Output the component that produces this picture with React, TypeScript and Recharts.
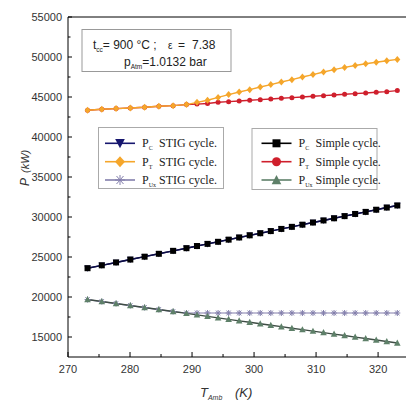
import React from "react";
import { LineChart, Line, XAxis, YAxis, ReferenceLine } from "recharts";

// Ambient temperature (K)
const temps = [
  273.15, 275.45, 277.75, 280.05, 282.35, 284.65, 286.95, 289.1, 290.8, 292.5,
  294.2, 295.9, 297.6, 299.3, 301.0, 302.7, 304.4, 306.1, 307.8, 309.5,
  311.2, 312.9, 314.6, 316.3, 318.0, 319.7, 321.4, 323.1,
];

// Compressor power (kW)
const pcStig = [
  23600, 23960, 24320, 24680, 25040, 25400, 25770, 26100, 26370, 26640,
  26900, 27170, 27440, 27710, 27970, 28240, 28510, 28770, 29040, 29310,
  29570, 29840, 30110, 30380, 30640, 30910, 31180, 31440,
];
const pcSimple = [
  23600, 23960, 24320, 24680, 25040, 25400, 25770, 26100, 26370, 26640,
  26900, 27170, 27440, 27710, 27970, 28240, 28510, 28770, 29040, 29310,
  29570, 29840, 30110, 30380, 30640, 30910, 31180, 31440,
];

// Turbine power (kW)
const ptStig = [
  43340, 43460, 43550, 43620, 43710, 43840, 43920, 44050, 44330, 44600,
  44950, 45300, 45620, 45920, 46250, 46550, 46870, 47170, 47500, 47800,
  48120, 48420, 48700, 48930, 49150, 49350, 49530, 49700,
];
const ptSimple = [
  43340, 43460, 43550, 43620, 43710, 43840, 43920, 44050, 44110, 44180,
  44340, 44420, 44500, 44590, 44670, 44750, 44840, 44920, 45000, 45090,
  45170, 45250, 45340, 45420, 45500, 45590, 45670, 45800,
];

// Useful power (kW)
const puxStig = [
  19680, 19430, 19180, 18930, 18680, 18430, 18180, 18000, 18000, 18000,
  18000, 18000, 18000, 18000, 18000, 18000, 18000, 18000, 18000, 18000,
  18000, 18000, 18000, 18000, 18000, 18000, 18000, 18000,
];
const puxSimple = [
  19680, 19430, 19180, 18930, 18680, 18430, 18180, 17950, 17760, 17580,
  17390, 17210, 17020, 16840, 16660, 16470, 16290, 16100, 15920, 15730,
  15550, 15360, 15180, 14990, 14810, 14620, 14440, 14250,
];

const xTicks = [270, 275, 280, 285, 290, 295, 300, 305, 310, 315, 320];
const yTicks = [
  15000, 17500, 20000, 22500, 25000, 27500, 30000, 32500, 35000, 37500,
  40000, 42500, 45000, 47500, 50000, 52500, 55000,
];

const data = temps.map((t, i) => ({
  t,
  pcStig: pcStig[i],
  pcSimple: pcSimple[i],
  ptStig: ptStig[i],
  ptSimple: ptSimple[i],
  puxStig: puxStig[i],
  puxSimple: puxSimple[i],
}));

const C = {
  navy: "#16166e",
  black: "#000000",
  orange: "#f5a62b",
  red: "#cf1f2c",
  purple: "#837fac",
  green: "#5e8069",
  greenLine: "#3f4d45",
};

type Shape = "tri" | "triDown" | "diamond" | "square" | "circle" | "star";

function marker(shape: Shape, color: string, cx: number, cy: number, s: number, key?: any) {
  switch (shape) {
    case "square":
      return <rect key={key} x={cx - s / 2} y={cy - s / 2} width={s} height={s} fill={color} />;
    case "circle":
      return <circle key={key} cx={cx} cy={cy} r={s / 2} fill={color} />;
    case "diamond":
      return (
        <polygon
          key={key}
          points={`${cx},${cy - s / 2 - 0.5} ${cx + s / 2},${cy} ${cx},${cy + s / 2 + 0.5} ${cx - s / 2},${cy}`}
          fill={color}
        />
      );
    case "tri":
      return (
        <polygon
          key={key}
          points={`${cx},${cy - s / 2 - 0.5} ${cx + s / 2 + 0.3},${cy + s / 2 - 0.3} ${cx - s / 2 - 0.3},${cy + s / 2 - 0.3}`}
          fill={color}
        />
      );
    case "triDown":
      return (
        <polygon
          key={key}
          points={`${cx},${cy + s / 2 + 0.5} ${cx + s / 2 + 0.3},${cy - s / 2 + 0.3} ${cx - s / 2 - 0.3},${cy - s / 2 + 0.3}`}
          fill={color}
        />
      );
    case "star": {
      const r = s / 2;
      return (
        <g key={key} stroke={color} strokeWidth={1}>
          <line x1={cx - r} y1={cy} x2={cx + r} y2={cy} />
          <line x1={cx - r * 0.7} y1={cy - r * 0.8} x2={cx + r * 0.7} y2={cy + r * 0.8} />
          <line x1={cx - r * 0.7} y1={cy + r * 0.8} x2={cx + r * 0.7} y2={cy - r * 0.8} />
          <line x1={cx} y1={cy - r} x2={cx} y2={cy + r} />
        </g>
      );
    }
  }
  return null;
}

const dotFn = (shape: Shape, color: string, s: number) => (props: any) => {
  const { cx, cy, index } = props;
  if (cx == null || cy == null) return <g key={`d${index}`} />;
  return marker(shape, color, cx, cy, s, `d${index}`);
};

const YTick = (props: any) => {
  const { x, y, payload } = props;
  const v = payload.value as number;
  const ax = x + 6;
  const major = v % 5000 === 0;
  return (
    <g>
      <line x1={ax} x2={ax + (major ? 4 : 2.5)} y1={y} y2={y} stroke="#000" strokeWidth={1} />
      {major && (
        <text x={x} y={y + 4} textAnchor="end" fontSize={11} fill="#333" fontFamily="Liberation Sans, Arial, sans-serif">
          {v}
        </text>
      )}
    </g>
  );
};

const XTick = (props: any) => {
  const { x, y, payload } = props;
  const v = payload.value as number;
  const major = v % 10 === 0;
  return (
    <g>
      <line x1={x} x2={x} y1={y} y2={y - (major ? 5 : 3)} stroke="#000" strokeWidth={1} />
      {major && (
        <text x={x} y={y + 15.5} textAnchor="middle" fontSize={11} fill="#333" fontFamily="Liberation Sans, Arial, sans-serif">
          {v}
        </text>
      )}
    </g>
  );
};

const serif = "Liberation Serif, Times New Roman, serif";
const sans = "Liberation Sans, Arial, sans-serif";

const LegendRow = ({ x, y, shape, color, sub, label, s }: any) => (
  <g>
    <line x1={x} x2={x + 30} y1={y} y2={y} stroke={color} strokeWidth={1.6} />
    {marker(shape, color, x + 15, y, s)}
    <text x={x + 37} y={y + 4} fontFamily={serif} fontSize={12} fill="#222">
      P
      <tspan fontSize={6} dy={3}>{sub}</tspan>
    </text>
    <text x={x + 54} y={y + 4} fontFamily={serif} fontSize={12} fill="#222">
      {label}
    </text>
  </g>
);

export default function App() {
  return (
    <div style={{ position: "fixed", left: 0, top: 0, width: 406, height: 400, background: "#fff" }}>
      <LineChart width={406} height={400} data={data} margin={{ top: 17, right: 0, bottom: 0, left: 0 }}>
        <XAxis
          dataKey="t"
          type="number"
          domain={[270, 324.5]}
          ticks={xTicks}
          interval={0}
          allowDataOverflow
          height={43}
          tickSize={0}
          tickMargin={0}
          tickLine={false}
          axisLine={{ stroke: "#000", strokeWidth: 1 }}
          tick={<XTick />}
        />
        <YAxis
          type="number"
          domain={[12500, 55000]}
          ticks={yTicks}
          interval={0}
          allowDataOverflow
          width={68}
          tickSize={0}
          tickMargin={6}
          tickLine={false}
          axisLine={{ stroke: "#000", strokeWidth: 1 }}
          tick={<YTick />}
        />
        <ReferenceLine y={55000} stroke="#000" strokeWidth={1} />
        <Line dataKey="ptSimple" stroke={C.red} strokeWidth={1.4} dot={dotFn("circle", C.red, 5)} isAnimationActive={false} />
        <Line dataKey="ptStig" stroke={C.orange} strokeWidth={1.4} dot={dotFn("diamond", C.orange, 6)} isAnimationActive={false} />
        <Line dataKey="pcStig" stroke={C.navy} strokeWidth={1.4} dot={dotFn("triDown", C.navy, 6)} isAnimationActive={false} />
        <Line dataKey="pcSimple" stroke="#0c0c40" strokeWidth={1.4} dot={dotFn("square", C.black, 6)} isAnimationActive={false} />
        <Line dataKey="puxStig" stroke={C.purple} strokeWidth={1.2} dot={dotFn("star", C.purple, 6)} isAnimationActive={false} />
        <Line dataKey="puxSimple" stroke={C.greenLine} strokeWidth={1.4} dot={dotFn("tri", C.green, 6)} isAnimationActive={false} />
      </LineChart>
      <svg width={406} height={400} style={{ position: "absolute", left: 0, top: 0, pointerEvents: "none" }}>
        {/* condition box */}
        <rect x={82} y={29.5} width={149} height={42} fill="#fff" stroke="#999" strokeWidth={1} />
        <text x={93} y={49} fontFamily={sans} fontSize={12} fill="#222">
          t<tspan fontSize={6.5} dy={3}>cc</tspan>
          <tspan dy={-3}>= 900 °C ;</tspan>
        </text>
        <text x={168} y={49} fontFamily={sans} fontSize={10} fill="#222">
          ε
        </text>
        <text x={178} y={49} fontFamily={sans} fontSize={12} fill="#222">
          =
        </text>
        <text x={192} y={49} fontFamily={sans} fontSize={12} fill="#222">
          7.38
        </text>
        <text x={124} y={66} fontFamily={sans} fontSize={12} fill="#222">
          p<tspan fontSize={6.5} dy={3}>Atm</tspan>
          <tspan dy={-3}>=1.0132 bar</tspan>
        </text>

        {/* STIG legend */}
        <rect x={98.5} y={127.5} width={125} height={61} fill="#fff" stroke="#aaa" strokeWidth={1} />
        <LegendRow x={105} y={143.3} shape="triDown" color={C.navy} sub="C" label="STIG cycle." s={9} />
        <LegendRow x={105} y={161.7} shape="diamond" color={C.orange} sub="T" label="STIG cycle." s={10} />
        <LegendRow x={105} y={180} shape="star" color={C.purple} sub="Ux" label="STIG cycle." s={10} />

        {/* Simple legend */}
        <rect x={252} y={128.5} width={125} height={61} fill="#fff" stroke="#aaa" strokeWidth={1} />
        <g transform="translate(156.5,0)">
          <LegendRow x={105} y={143.3} shape="square" color={C.black} sub="C" label="Simple cycle." s={8} />
          <LegendRow x={105} y={161.7} shape="circle" color={C.red} sub="T" label="Simple cycle." s={9} />
          <LegendRow x={105} y={180} shape="tri" color={C.green} sub="Ux" label="Simple cycle." s={9} />
        </g>

        {/* axis titles */}
        <g transform="translate(29,0) rotate(-90)">
          <text x={-182} y={0} textAnchor="middle" fontFamily={sans} fontStyle="italic" fontSize={12} fill="#333">
            P
          </text>
          <text x={-173} y={0} textAnchor="start" fontFamily={sans} fontStyle="italic" fontSize={11} fill="#333">
            (kW)
          </text>
        </g>
        <text x={200} y={397} fontFamily={sans} fontStyle="italic" fontSize={13} fill="#333">
          T<tspan fontSize={7} dy={3}>Amb</tspan>
        </text>
        <text x={235} y={397} fontFamily={sans} fontStyle="italic" fontSize={13} fill="#333">
          (K)
        </text>
      </svg>
    </div>
  );
}
